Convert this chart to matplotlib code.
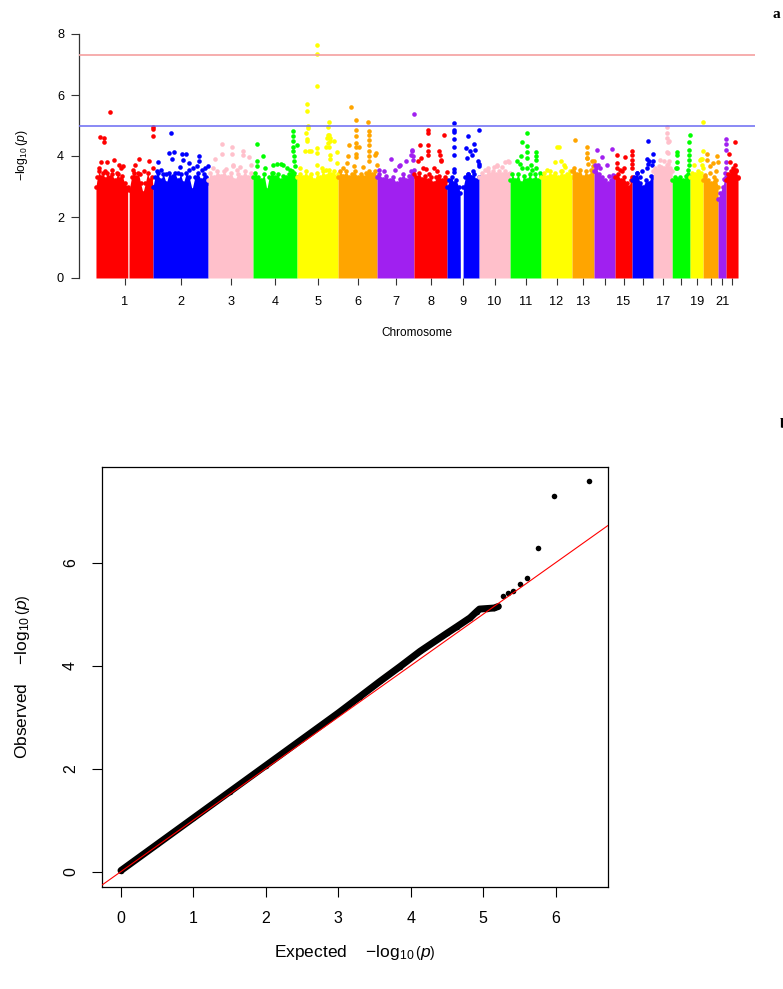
import numpy as np
import matplotlib
matplotlib.use('Agg')
import matplotlib.pyplot as plt

plt.rcParams['font.family'] = ['Liberation Sans', 'DejaVu Sans']
plt.rcParams['mathtext.fontset'] = 'custom'
plt.rcParams['mathtext.rm'] = 'Liberation Sans'
plt.rcParams['mathtext.it'] = 'Liberation Sans:italic'
plt.rcParams['mathtext.bf'] = 'Liberation Sans:bold'

# ---------------- Manhattan data (positions in Mb inside each chromosome) ----------------
chrom_len = [249, 240, 196, 192, 179, 170, 161, 144, 140, 135, 135, 135,
             96, 92, 74, 92, 83, 78, 57, 65, 35, 52]
tick_labels = ['1', '2', '3', '4', '5', '6', '7', '8', '9', '10', '11', '12',
               '13', '', '15', '', '17', '', '19', '', '21', '']
chrom_colors = ['red', 'blue', 'pink', '#00ff00', 'yellow', 'orange', '#a020f0']

# top of the dense cloud of SNPs
env_pos = [
    [0, 6, 14, 22, 30, 40, 50, 60, 70, 82, 95, 105, 115, 125, 138, 139, 144, 145, 155, 165, 175, 185, 195, 205, 215, 225, 235, 244, 249],
    [0, 8, 20, 32, 45, 58, 70, 82, 95, 108, 120, 132, 145, 158, 170, 182, 195, 210, 222, 232, 240],
    [0, 10, 25, 40, 55, 70, 85, 100, 115, 130, 145, 160, 175, 188, 196],
    [0, 10, 22, 35, 48, 60, 70, 82, 95, 108, 120, 132, 145, 158, 170, 180, 192],
    [0, 12, 25, 38, 50, 62, 75, 88, 100, 112, 125, 138, 150, 162, 172, 179],
    [0, 10, 22, 35, 48, 60, 72, 85, 98, 110, 122, 135, 148, 160, 170],
    [0, 10, 25, 40, 55, 70, 85, 100, 115, 128, 140, 150, 161],
    [0, 10, 22, 35, 48, 60, 72, 85, 98, 110, 122, 134, 144],
    [0, 10, 20, 30, 40, 50, 57, 58, 70, 71, 80, 92, 104, 116, 128, 140],
    [0, 12, 25, 38, 50, 62, 75, 88, 100, 112, 125, 135],
    [0, 10, 22, 35, 48, 60, 72, 85, 98, 110, 122, 135],
    [0, 12, 25, 38, 50, 62, 75, 88, 100, 112, 125, 135],
    [0, 10, 22, 35, 48, 60, 72, 84, 96],
    [0, 10, 22, 35, 48, 60, 72, 84, 92],
    [0, 12, 25, 38, 50, 60, 68, 74],
    [0, 10, 22, 35, 48, 60, 72, 84, 92],
    [0, 10, 22, 35, 48, 60, 72, 83],
    [0, 10, 22, 35, 48, 60, 70, 78],
    [0, 10, 22, 35, 48, 57],
    [0, 10, 22, 35, 48, 58, 65],
    [0, 10, 20, 28, 35],
    [0, 10, 22, 35, 45, 52],
]
env_top = [
    [3.0, 3.3, 3.5, 3.3, 3.45, 3.25, 3.45, 3.3, 3.4, 3.2, 3.4, 3.25, 3.35, 3.1, 3.0, 0, 0, 2.9, 3.3, 3.45, 3.3, 3.45, 3.1, 2.8, 3.1, 3.45, 3.2, 3.3, 3.0],
    [3.0, 3.3, 3.45, 3.2, 3.4, 3.1, 3.45, 3.3, 3.45, 3.2, 3.4, 3.1, 3.45, 3.3, 2.9, 3.3, 3.45, 3.2, 3.4, 3.3, 3.1],
    [3.2, 3.45, 3.3, 3.5, 3.35, 3.5, 3.3, 3.45, 3.2, 3.4, 3.3, 3.5, 3.3, 3.45, 3.3],
    [3.3, 3.45, 3.3, 3.2, 3.4, 2.9, 3.3, 3.45, 3.3, 3.4, 3.2, 3.35, 3.3, 3.4, 3.5, 3.45, 3.3],
    [3.3, 3.4, 3.3, 3.5, 3.3, 3.4, 3.2, 3.45, 3.3, 3.5, 3.35, 3.55, 3.4, 3.5, 3.3, 3.4],
    [3.3, 3.5, 3.35, 3.5, 3.3, 3.4, 3.5, 3.3, 3.4, 3.3, 3.45, 3.5, 3.4, 3.5, 3.3],
    [3.3, 3.4, 3.25, 3.35, 3.2, 3.3, 3.1, 3.25, 3.4, 3.2, 3.35, 3.5, 3.55],
    [3.4, 3.3, 3.45, 3.25, 3.35, 3.2, 3.3, 3.1, 3.3, 3.35, 3.2, 3.3, 3.2],
    [3.0, 3.2, 3.3, 3.1, 3.2, 3.0, 2.8, 0, 0, 3.0, 3.3, 3.4, 3.3, 3.4, 3.2, 3.3],
    [3.3, 3.45, 3.35, 3.5, 3.4, 3.5, 3.4, 3.5, 3.4, 3.5, 3.4, 3.45],
    [3.2, 3.4, 3.2, 3.4, 3.1, 3.35, 3.2, 3.4, 3.2, 3.4, 3.2, 3.35],
    [3.3, 3.45, 3.3, 3.5, 3.35, 3.45, 3.3, 3.5, 3.35, 3.4, 3.5, 3.3],
    [3.5, 3.6, 3.4, 3.55, 3.3, 3.5, 3.35, 3.55, 3.5],
    [3.5, 3.6, 3.4, 3.3, 3.2, 3.1, 3.2, 3.3, 3.35],
    [3.3, 3.4, 3.2, 3.3, 3.1, 3.0, 3.2, 3.3],
    [3.2, 3.3, 3.45, 3.1, 3.0, 3.2, 3.1, 3.35, 3.3],
    [3.5, 3.6, 3.55, 3.65, 3.6, 3.7, 3.6, 3.5],
    [3.2, 3.3, 3.25, 3.3, 3.2, 3.35, 3.4, 3.3],
    [3.3, 3.45, 3.4, 3.5, 3.45, 3.3],
    [3.2, 3.3, 3.2, 3.1, 3.3, 3.2, 3.0],
    [2.6, 2.8, 3.0, 3.2, 3.3],
    [3.2, 3.4, 3.5, 3.55, 3.5, 3.3],
]

# SNPs standing out above the cloud
hit_pos = [
    [62, 19, 35, 36, 78, 49, 14, 119, 108, 68, 90, 41, 186, 232, 170, 211, 160, 192, 248, 248, 248, 247, 24, 100],
    [80, 71, 92, 126, 145, 129, 84, 200, 200, 20, 156, 118, 238, 227, 16, 35, 55, 89, 156, 191, 110, 175, 215],
    [60, 106, 152, 61, 106, 152, 180, 32, 107, 107, 77, 125, 20, 186, 140],
    [16, 45, 16, 19, 89, 103, 121, 132, 86, 52, 175, 175, 176, 175, 176, 177, 178, 182, 190, 161, 147],
    [88, 88, 88, 45, 45, 47, 47, 40, 45, 45, 35, 54, 62, 140, 137, 136, 132, 134, 138, 128, 143, 161, 86, 86, 144, 142, 176, 176, 108, 126, 13, 86, 140, 145],
    [57, 78, 78, 78, 78, 80, 131, 135, 134, 133, 133, 134, 134, 135, 47, 42, 93, 78, 78, 165, 163, 168, 40, 69, 20, 110],
    [160, 61, 97, 124, 153, 150, 156, 158, 78, 28, 100, 151, 10],
    [60, 60, 131, 28, 60, 60, 60, 110, 115, 118, 118, 30, 19, 51, 65, 143, 100, 85, 40],
    [29, 29, 29, 29, 29, 29, 30, 30, 93, 139, 84, 100, 119, 110, 88, 120, 137, 139, 138, 114, 92, 88, 100],
    [79, 63, 113, 130, 26, 80, 125, 40, 100],
    [75, 54, 75, 75, 112, 48, 29, 73, 112, 50, 95, 113, 130, 73, 112, 45, 90],
    [68, 79, 61, 87, 105, 90, 25, 100],
    [13, 64, 67, 67, 86, 94, 93, 64, 70],
    [13, 78, 36, 58, 67, 84, 19, 26, 5],
    [9, 41, 73, 73, 73, 72, 7, 22, 29, 7, 73, 40],
    [70, 90, 67, 74, 67, 90, 20, 35, 42, 70, 85],
    [62, 62, 62, 64, 68, 60, 65, 30, 45, 27, 68, 64],
    [77, 72, 74, 74, 74, 20, 22, 18, 20, 67, 20, 72],
    [56, 56, 41, 54, 56, 15, 48, 50],
    [17, 60, 64, 45, 16, 55, 30, 28, 10],
    [34, 34, 34, 35, 24, 30, 34],
    [38, 14, 16, 28, 32, 10, 50, 40, 45],
]
hit_logp = [
    [5.44, 4.62, 4.58, 4.45, 3.86, 3.79, 3.61, 3.66, 3.61, 3.55, 3.45, 3.5, 3.90, 3.82, 3.71, 3.50, 3.55, 3.4, 4.96, 4.88, 4.64, 3.62, 3.8, 3.72],
    [4.75, 4.10, 4.13, 4.08, 4.06, 3.88, 3.90, 3.99, 3.82, 3.79, 3.77, 3.64, 3.68, 3.61, 3.50, 3.53, 3.40, 3.35, 3.55, 3.66, 3.45, 3.6, 3.55],
    [4.40, 4.29, 4.17, 4.07, 4.07, 4.02, 3.97, 3.89, 3.71, 3.66, 3.58, 3.55, 3.6, 3.7, 3.65],
    [4.39, 3.99, 3.82, 3.66, 3.71, 3.75, 3.75, 3.71, 3.45, 3.6, 4.81, 4.64, 4.48, 4.31, 4.15, 3.99, 3.82, 3.66, 4.35, 3.55, 3.6],
    [7.63, 7.34, 6.30, 5.71, 5.49, 4.99, 4.92, 4.75, 4.56, 4.48, 4.17, 4.15, 4.15, 5.13, 4.95, 4.69, 4.60, 4.43, 4.31, 4.30, 4.48, 4.48, 4.26, 4.10, 4.04, 3.90, 4.12, 3.77, 3.6, 3.55, 3.6, 3.7, 4.7, 4.6],
    [5.61, 5.17, 4.86, 4.67, 4.43, 4.31, 5.12, 4.81, 4.70, 4.53, 4.37, 4.15, 3.99, 3.82, 4.37, 4.01, 4.29, 4.07, 3.97, 4.10, 4.04, 3.7, 3.77, 3.66, 3.6, 3.65],
    [5.37, 3.90, 3.66, 3.82, 4.15, 4.04, 3.88, 4.0, 3.55, 3.5, 3.7, 4.2, 3.55],
    [4.84, 4.77, 4.69, 4.35, 4.37, 4.18, 4.02, 4.15, 4.04, 3.88, 3.82, 3.93, 3.82, 3.58, 3.4, 3.46, 3.5, 3.6, 3.6],
    [5.09, 4.86, 4.79, 4.57, 4.30, 4.02, 3.58, 3.48, 4.64, 4.84, 4.26, 4.15, 4.39, 4.04, 3.93, 4.20, 3.82, 3.75, 3.68, 3.5, 3.4, 3.3, 3.3],
    [3.68, 3.64, 3.79, 3.81, 3.53, 3.71, 3.82, 3.6, 3.65],
    [4.76, 4.45, 4.34, 4.12, 4.12, 3.99, 3.85, 3.93, 3.86, 3.61, 3.55, 3.6, 3.44, 3.6, 3.99, 3.75, 3.7],
    [4.29, 4.29, 3.79, 3.82, 3.64, 3.50, 3.55, 3.7],
    [4.51, 4.31, 4.10, 3.93, 3.82, 3.82, 3.66, 3.95, 3.75],
    [4.20, 4.23, 3.97, 3.71, 3.33, 3.39, 3.71, 3.61, 3.7],
    [4.02, 3.97, 4.15, 4.02, 3.88, 3.61, 3.77, 3.55, 3.50, 3.61, 3.75, 3.6],
    [4.50, 4.08, 3.91, 3.82, 3.61, 3.85, 3.44, 3.31, 3.50, 3.75, 3.7],
    [4.94, 4.75, 4.59, 4.45, 4.48, 4.13, 4.10, 3.88, 3.82, 3.66, 3.82, 3.75],
    [4.68, 4.45, 4.21, 4.04, 3.88, 4.12, 4.04, 3.61, 3.61, 3.55, 3.8, 3.7],
    [5.11, 4.15, 3.88, 3.90, 3.61, 3.71, 3.9, 3.7],
    [4.07, 3.99, 3.79, 3.77, 3.88, 3.5, 3.44, 3.66, 3.39],
    [4.56, 4.40, 4.21, 3.61, 3.25, 3.44, 3.8],
    [4.45, 4.07, 3.79, 3.61, 3.44, 3.28, 3.28, 3.7, 3.55],
]
genome_line = 7.3
suggest_line = 5.0

# ---------------- QQ data ----------------
qq_expected = [0, 0.5, 1.0, 1.5, 2.0, 2.5, 3.0, 3.3, 3.58, 3.85, 4.13, 4.5, 4.64, 4.82,
               4.91, 4.95, 5.05, 5.15, 5.21, 5.28, 5.34, 5.41, 5.51, 5.61, 5.76, 5.98, 6.46]
qq_observed = [0.02, 0.53, 1.04, 1.55, 2.06, 2.57, 3.08, 3.4, 3.7, 3.98, 4.28, 4.63, 4.76, 4.93,
               5.05, 5.1, 5.11, 5.12, 5.15, 5.36, 5.42, 5.46, 5.59, 5.70, 6.28, 7.30, 7.58]

W, H = 783, 989
fig = plt.figure(figsize=(W / 100, H / 100), dpi=100)

# ---------------- panel a: Manhattan ----------------
ax1 = fig.add_axes([79 / W, 1 - 278 / H, 676 / W, 244 / H])
offsets = np.concatenate([[0], np.cumsum(chrom_len)[:-1]])
for i in range(len(chrom_len)):
    col = chrom_colors[i % len(chrom_colors)]
    ex = offsets[i] + np.array(env_pos[i], dtype=float)
    ey = np.array(env_top[i], dtype=float)
    ax1.fill_between(ex, 0, ey, color=col, lw=0, zorder=2)
    keep = ey > 0
    ax1.plot(ex[keep], ey[keep], 'o', ms=3.3, mew=0, color=col, zorder=2)
    hx = [offsets[i] + p for p, v in zip(hit_pos[i], hit_logp[i], strict=True)]
    ax1.plot(hx, hit_logp[i], 'o', ms=3.3, mew=0, color=col, zorder=2, clip_on=False)

ax1.axhline(genome_line, color='#f5a0a0', lw=1.2, zorder=3)
ax1.axhline(suggest_line, color='#6a6af2', lw=1.1, zorder=3)
ax1.set_xlim(-74, sum(chrom_len) + 74)
ax1.set_ylim(0, 8)
for s in ['top', 'right', 'bottom']:
    ax1.spines[s].set_visible(False)
ax1.spines['left'].set_bounds(0, 8)
ax1.spines['left'].set_linewidth(0.9)
ax1.spines['left'].set_color('#333333')
ax1.set_yticks([0, 2, 4, 6, 8])
ax1.set_xticks(offsets + np.array(chrom_len) / 2)
ax1.set_xticklabels(tick_labels)
ax1.tick_params(axis='y', length=5.8, width=0.8, pad=5, labelsize=9.2, color='#333333')
ax1.tick_params(axis='x', length=5, width=0.8, pad=8, labelsize=9.2, color='#333333')
fig.text(22 / W, 1 - 155 / H, r'$-\log_{10}(p)$', rotation=90, ha='center', va='center', fontsize=8.8)
fig.text(417 / W, 1 - 333 / H, 'Chromosome', ha='center', va='center', fontsize=8.5)

# ---------------- panel b: QQ ----------------
ax2 = fig.add_axes([102 / W, 1 - 887 / H, 505.7 / W, 420 / H])
trunk = np.array(qq_expected) <= 5.21
ax2.plot(np.array(qq_expected)[trunk], np.array(qq_observed)[trunk], color='black', lw=5.0,
         solid_capstyle='round', solid_joinstyle='round', zorder=2)
ax2.plot(qq_expected, qq_observed, 'o', ms=4.0, mew=0, color='black', zorder=2)
ax2.axline((0, 0), slope=1, color='red', lw=0.8, zorder=3)
ax2.set_xlim(-0.262, 6.72)
ax2.set_ylim(-0.30, 7.86)
for s in ax2.spines.values():
    s.set_linewidth(0.9)
ax2.set_xticks(range(0, 7))
ax2.set_yticks([0, 2, 4, 6])
ax2.tick_params(axis='both', length=7.2, width=0.8, labelsize=11.5)
ax2.tick_params(axis='x', pad=10)
ax2.tick_params(axis='y', pad=10)
for lab in ax2.get_yticklabels():
    lab.set_rotation(90)
    lab.set_va('center')
fig.text(355 / W, 1 - 952 / H, r'Expected    $-\log_{10}\left(p\right)$', ha='center', va='center', fontsize=12.5)
fig.text(23 / W, 1 - 677 / H, r'Observed    $-\log_{10}\left(p\right)$', rotation=90,
         ha='center', va='center', fontsize=12.5)

# panel letters
fig.text(776 / W, 1 - 15 / H, 'a', family='Liberation Serif', weight='bold', fontsize=11,
         ha='center', va='center')
fig.text(780 / W, 1 - 428 / H, 'b', family='Liberation Serif', weight='bold', fontsize=11,
         ha='left', va='baseline')

fig.savefig('out.png', dpi=100)
